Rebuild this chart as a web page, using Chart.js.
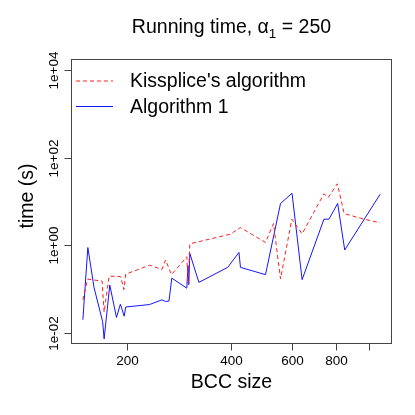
<!DOCTYPE html>
<html><head><meta charset="utf-8">
<script src="https://cdn.jsdelivr.net/npm/chart.js@4/dist/chart.umd.min.js"></script>
<style>html,body{margin:0;padding:0;background:#fff;} canvas{display:block;}</style>
</head><body>
<canvas id="c" width="415" height="415"></canvas>
<script>
// ---- data ----
const kissX = [149, 153.7, 169.3, 171.6, 177.4, 191.5, 195.8, 198.1, 232.1, 252.0, 258.2, 268.5, 297.4, 299.9, 303.4, 397.4, 424.8, 501.7, 529.2, 554.4, 597.7, 640.0, 740.0, 761, 809, 846.6, 965.8, 1075];
const kissY = [0.058, 0.172, 0.155, 0.0304, 0.201, 0.196, 0.0993, 0.223, 0.356, 0.285, 0.467, 0.217, 0.555, 0.136, 1.09, 1.81, 2.56, 1.17, 3.15, 0.173, 3.96, 1.84, 15.0, 12.3, 25.3, 5.30, 3.96, 3.27];
const algX = [149, 154.0, 160.5, 169.9, 171.6, 178.2, 186.3, 191.2, 196.1, 198.1, 232.1, 252.0, 258.2, 264.1, 269.1, 297.4, 299.6, 301.3, 303.4, 322.2, 390.3, 420.6, 424.8, 501.7, 554.4, 598.5, 640.0, 740.0, 765.1, 810.6, 849.5, 1075];
const algY = [0.0205, 0.90, 0.110, 0.0187, 0.0075, 0.126, 0.0231, 0.0462, 0.0247, 0.0399, 0.0454, 0.0581, 0.0531, 0.0545, 0.181, 0.107, 0.347, 0.129, 0.659, 0.145, 0.318, 0.695, 0.318, 0.217, 9.02, 15.4, 0.167, 3.96, 3.96, 9.02, 0.791, 14.6];
const seriesNames = ["Kissplice's algorithm", "Algorithm 1"];
const seriesColors = ['rgb(255,30,30)', 'rgb(20,20,255)'];
const seriesDash = [[4, 3], []];
const xTicks = [200, 400, 600, 800, 1000];
const xTickLabels = ['200', '400', '600', '800', ''];
const yTicks = [0.01, 1, 100, 10000];
const yTickLabels = ['1e-02', '1e+00', '1e+02', '1e+04'];
const xTitle = 'BCC size';
const yTitle = 'time (s)';
const titleMain = 'Running time, ';
const titleSym = '\u03B1';
const titleSub = '1';
const titleTail = ' = 250';

const FONT = '"Liberation Sans", Arial, sans-serif';

const decor = {
  id: 'decor',
  afterDraw(chart) {
    const ctx = chart.ctx, xs = chart.scales.x, ys = chart.scales.y, a = chart.chartArea;
    ctx.save();
    ctx.strokeStyle = '#444';
    ctx.lineWidth = 1;
    const L = Math.round(a.left) + 0.5, T = Math.round(a.top) + 0.5;
    const R = Math.round(a.right) - 0.5, B = Math.round(a.bottom) - 0.5;
    ctx.strokeRect(L, T, R - L, B - T);
    ctx.fillStyle = '#000';
    // x ticks
    ctx.font = '13.5px ' + FONT;
    ctx.textAlign = 'center';
    ctx.textBaseline = 'middle';
    xTicks.forEach((v, i) => {
      const px = Math.round(xs.getPixelForValue(v)) + 0.5;
      ctx.beginPath(); ctx.moveTo(px, B); ctx.lineTo(px, B + 7); ctx.stroke();
      if (xTickLabels[i]) ctx.fillText(xTickLabels[i], px, 361);
    });
    // y ticks
    yTicks.forEach((v, i) => {
      const py = Math.round(ys.getPixelForValue(v)) + 0.5;
      ctx.beginPath(); ctx.moveTo(L, py); ctx.lineTo(L - 7, py); ctx.stroke();
      ctx.save();
      ctx.translate(54.5, py);
      ctx.rotate(-Math.PI / 2);
      ctx.fillText(yTickLabels[i], 0, 0);
      ctx.restore();
    });
    // axis titles
    ctx.font = '19.5px ' + FONT;
    ctx.fillText(xTitle, (a.left + a.right) / 2, 383);
    ctx.save();
    ctx.translate(28, 196);
    ctx.rotate(-Math.PI / 2);
    ctx.fillText(yTitle, 0, 0);
    ctx.restore();
    // main title with alpha subscript
    const fMain = '19.5px ' + FONT, fSub = '13.5px ' + FONT;
    ctx.font = fMain;
    const w1 = ctx.measureText(titleMain).width;
    const w2 = ctx.measureText(titleSym).width;
    const w4 = ctx.measureText(titleTail).width;
    ctx.font = fSub;
    const w3 = ctx.measureText(titleSub).width;
    let x = (a.left + a.right) / 2 - (w1 + w2 + w3 + w4) / 2;
    const ty = 28;
    ctx.textAlign = 'left';
    ctx.font = fMain;
    ctx.fillText(titleMain, x, ty); x += w1;
    ctx.fillText(titleSym, x, ty); x += w2;
    ctx.font = fSub;
    ctx.fillText(titleSub, x, ty + 6); x += w3;
    ctx.font = fMain;
    ctx.fillText(titleTail, x, ty);
    // legend
    const rows = [81, 106.5];
    seriesNames.forEach((name, i) => {
      ctx.save();
      ctx.strokeStyle = seriesColors[i];
      ctx.lineWidth = 1;
      ctx.setLineDash(seriesDash[i]);
      ctx.beginPath(); ctx.moveTo(76, rows[i]); ctx.lineTo(113, rows[i]); ctx.stroke();
      ctx.restore();
      ctx.font = fMain;
      ctx.fillStyle = '#000';
      ctx.fillText(name, 130, Math.round(rows[i]) + 0.5);
    });
    ctx.restore();
  }
};

const toPts = (xs, ys) => xs.map((x, i) => ({x: x, y: ys[i]}));

new Chart(document.getElementById('c'), {
  type: 'line',
  data: {
    datasets: [
      { label: seriesNames[0], data: toPts(kissX, kissY), borderColor: seriesColors[0], borderWidth: 1, borderDash: seriesDash[0], pointRadius: 0, tension: 0, fill: false },
      { label: seriesNames[1], data: toPts(algX, algY), borderColor: seriesColors[1], borderWidth: 1, borderDash: seriesDash[1], pointRadius: 0, tension: 0, fill: false }
    ]
  },
  options: {
    responsive: false,
    devicePixelRatio: 1,
    animation: false,
    layout: { padding: { left: 71, top: 59, right: 23, bottom: 71 } },
    plugins: { legend: { display: false }, tooltip: { enabled: false }, title: { display: false } },
    scales: {
      x: { type: 'logarithmic', min: Math.pow(10, 2.1389), max: Math.pow(10, 3.0657), bounds: 'data', display: false },
      y: { type: 'logarithmic', min: Math.pow(10, -2.24), max: Math.pow(10, 4.24), bounds: 'data', display: false }
    }
  },
  plugins: [decor]
});
</script>
</body></html>
